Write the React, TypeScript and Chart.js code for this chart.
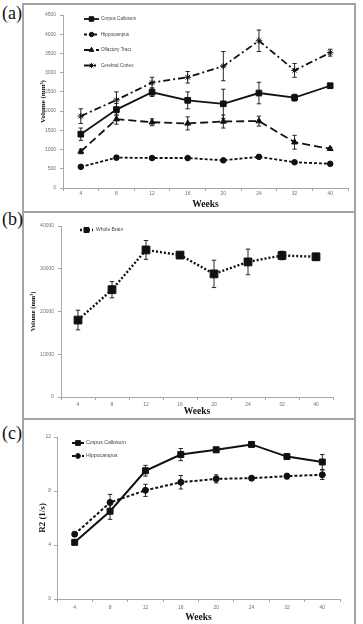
import React, { useEffect, useRef } from 'react';
import { Chart, registerables } from 'chart.js';
import { drawPoint } from 'chart.js/helpers';

Chart.register(...registerables);

// Imaging time points (weeks of age)
const weeks = ['4', '8', '12', '16', '20', '24', '32', '40'];

// (a) Regional volumes, mm³ (mean ± error)
const corpusVol = [1400, 2040, 2490, 2280, 2190, 2470, 2350, 2660];
const corpusVolErr = [160, 160, 110, 220, 380, 280, 90, 60];
const hippoVol = [550, 790, 780, 780, 720, 810, 670, 630];
const hippoVolErr = [40, 40, 40, 40, 40, 40, 30, 30];
const olfactoryVol = [950, 1790, 1710, 1680, 1730, 1740, 1190, 1020];
const olfactoryVolErr = [60, 130, 90, 170, 170, 130, 180, 40];
const cortexVol = [1870, 2290, 2740, 2880, 3170, 3830, 3060, 3520];
const cortexVolErr = [190, 210, 140, 150, 380, 280, 180, 90];

// (b) Whole brain volume, mm³
const wholeBrainVol = [18000, 25100, 34400, 33200, 28800, 31600, 33100, 32800];
const wholeBrainVolErr = [2300, 1900, 2200, 400, 3200, 3000, 1000, 800];

// (c) R2 relaxation rate, 1/s
const corpusR2 = [4.2, 6.5, 9.5, 10.7, 11.05, 11.45, 10.55, 10.15];
const corpusR2Err = [0.2, 0.6, 0.4, 0.45, 0.2, 0.15, 0.15, 0.55];
const hippoR2 = [4.8, 7.15, 8.05, 8.65, 8.9, 8.95, 9.1, 9.2];
const hippoR2Err = [0.15, 0.6, 0.45, 0.5, 0.3, 0.15, 0.2, 0.35];

const INK = '#111';
const AXIS = '#a8a8a8';
const TICK_TEXT = '#707070';
const FRAME = '#a4a4a4';

// Vertical error bars with small caps, read from dataset.errors
const errorBars = {
  id: 'errorBars',
  afterDatasetsDraw(chart: any) {
    const ctx = chart.ctx;
    chart.data.datasets.forEach((ds: any, i: number) => {
      if (!ds.errors) return;
      const meta = chart.getDatasetMeta(i);
      const ys = chart.scales[meta.yAxisID];
      ctx.save();
      ctx.strokeStyle = INK;
      ctx.lineWidth = 0.9;
      ctx.setLineDash([]);
      meta.data.forEach((pt: any, j: number) => {
        const v = ds.data[j];
        const e = ds.errors[j];
        const top = ys.getPixelForValue(v + e);
        const bot = ys.getPixelForValue(v - e);
        const cap = 2.2;
        ctx.beginPath();
        ctx.moveTo(pt.x, top);
        ctx.lineTo(pt.x, bot);
        ctx.moveTo(pt.x - cap, top);
        ctx.lineTo(pt.x + cap, top);
        ctx.moveTo(pt.x - cap, bot);
        ctx.lineTo(pt.x + cap, bot);
        ctx.stroke();
      });
      ctx.restore();
    });
  },
};

// Legend drawn as a vertical list inside the plot area
const insetLegend = {
  id: 'insetLegend',
  afterDraw(chart: any, _args: any, opts: any) {
    const ctx = chart.ctx;
    const { x, y, dy, len, gap, size, markerScale } = opts;
    chart.data.datasets.forEach((ds: any, i: number) => {
      const yy = y + i * dy;
      ctx.save();
      ctx.strokeStyle = INK;
      ctx.fillStyle = INK;
      ctx.lineWidth = ds.borderWidth;
      ctx.setLineDash(ds.borderDash || []);
      ctx.beginPath();
      ctx.moveTo(x, yy);
      ctx.lineTo(x + len, yy);
      ctx.stroke();
      ctx.setLineDash([]);
      ctx.lineWidth = 1;
      drawPoint(ctx, { pointStyle: ds.pointStyle, radius: ds.pointRadius * markerScale, rotation: 0, borderWidth: 1 }, x + len / 2, yy);
      ctx.fillStyle = '#444';
      ctx.font = `${size}px "Liberation Sans"`;
      ctx.textBaseline = 'middle';
      ctx.textAlign = 'left';
      ctx.fillText(ds.label, x + len + gap, yy);
      ctx.restore();
    });
  },
};

function series(label: string, data: number[], errors: number[], dash: number[], style: string, radius: number, width: number) {
  return {
    label,
    data,
    errors,
    borderColor: INK,
    backgroundColor: INK,
    borderWidth: width,
    borderDash: dash,
    pointStyle: style,
    pointRadius: radius,
    pointBorderWidth: 1,
    pointBackgroundColor: INK,
    pointBorderColor: INK,
    tension: 0,
    fill: false,
  };
}

type PanelCfg = {
  datasets: any[];
  yMin: number;
  yMax: number;
  yStep: number;
  yTitle: string;
  yTitleSize: number;
  yTitlePad: number;
  yWidth: number;
  yLabelPad: number;
  xHeight: number;
  xLabelPad: number;
  xTitlePad: number;
  padTop: number;
  padRight: number;
  legend: any;
};

function buildConfig(p: PanelCfg): any {
  return {
    type: 'line',
    data: { labels: weeks, datasets: p.datasets },
    options: {
      animation: false,
      responsive: false,
      maintainAspectRatio: false,
      events: [],
      layout: { padding: { left: 0, top: p.padTop, right: p.padRight, bottom: 0 } },
      plugins: {
        legend: { display: false },
        tooltip: { enabled: false },
        insetLegend: p.legend,
      },
      scales: {
        x: {
          type: 'category',
          offset: true,
          afterFit(s: any) { s.height = p.xHeight; },
          grid: { offset: true, drawOnChartArea: false, drawTicks: true, tickLength: 3, color: AXIS, lineWidth: 1 },
          border: { display: true, color: AXIS, width: 1 },
          ticks: { color: TICK_TEXT, font: { family: 'Liberation Sans', size: 5 }, padding: p.xLabelPad, maxRotation: 0, autoSkip: false },
          title: {
            display: true,
            text: 'Weeks',
            color: INK,
            font: { family: 'Liberation Serif', size: 9.5, weight: 'bold' },
            padding: { top: 0, bottom: p.xTitlePad },
          },
        },
        y: {
          min: p.yMin,
          max: p.yMax,
          afterFit(s: any) { s.width = p.yWidth; },
          grid: { drawOnChartArea: false, drawTicks: true, tickLength: 3, color: AXIS, lineWidth: 1 },
          border: { display: true, color: AXIS, width: 1 },
          ticks: {
            stepSize: p.yStep,
            color: TICK_TEXT,
            font: { family: 'Liberation Sans', size: 5 },
            padding: p.yLabelPad,
            callback: (v: number) => String(v),
          },
          title: {
            display: true,
            text: p.yTitle,
            color: INK,
            font: { family: 'Liberation Serif', size: p.yTitleSize, weight: 'bold' },
            padding: { top: p.yTitlePad, bottom: 0 },
          },
        },
      },
    },
    plugins: [errorBars, insetLegend],
  };
}

function Panel({ left, top, width, height, cfg }: { left: number; top: number; width: number; height: number; cfg: PanelCfg }) {
  const ref = useRef<HTMLCanvasElement | null>(null);
  useEffect(() => {
    if (!ref.current) return;
    const chart = new Chart(ref.current, buildConfig(cfg));
    return () => chart.destroy();
  }, []);
  return (
    <canvas
      ref={ref}
      width={width}
      height={height}
      style={{ position: 'absolute', left, top, width, height, display: 'block' }}
    />
  );
}

const volumePanel: PanelCfg = {
  datasets: [
    series('Corpus Callosum', corpusVol, corpusVolErr, [], 'rect', 4, 1.8),
    series('Hippocampus', hippoVol, hippoVolErr, [3, 2], 'circle', 2.8, 1.8),
    series('Olfactory Tract', olfactoryVol, olfactoryVolErr, [8, 4], 'triangle', 3.4, 1.8),
    series('Cerebral Cortex', cortexVol, cortexVolErr, [7, 3, 2, 3], 'star', 3.2, 1.8),
  ],
  yMin: 0,
  yMax: 4500,
  yStep: 500,
  yTitle: 'Volume (mm³)',
  yTitleSize: 7,
  yTitlePad: 15,
  yWidth: 39,
  yLabelPad: 4,
  xHeight: 23,
  xLabelPad: 0,
  xTitlePad: 0.5,
  padTop: 10,
  padRight: 6,
  legend: { x: 60, y: 14, dy: 15.5, len: 15, gap: 2, size: 4.6, markerScale: 0.8 },
};

const brainPanel: PanelCfg = {
  datasets: [series('Whole Brain', wholeBrainVol, wholeBrainVolErr, [2, 2], 'rect', 5.5, 2.4)],
  yMin: 0,
  yMax: 40000,
  yStep: 10000,
  yTitle: 'Volume (mm³)',
  yTitleSize: 6.5,
  yTitlePad: 5,
  yWidth: 37,
  yLabelPad: 4,
  xHeight: 21,
  xLabelPad: 2,
  xTitlePad: 0.3,
  padTop: 13,
  padRight: 21,
  legend: { x: 56, y: 17, dy: 14, len: 13, gap: 3, size: 5, markerScale: 0.65 },
};

const r2Panel: PanelCfg = {
  datasets: [
    series('Corpus Callosum', corpusR2, corpusR2Err, [], 'rect', 4.2, 2),
    series('Hippocampus', hippoR2, hippoR2Err, [3, 2], 'circle', 3, 2),
  ],
  yMin: 0,
  yMax: 12,
  yStep: 4,
  yTitle: 'R2 (1/s)',
  yTitleSize: 9,
  yTitlePad: 13.5,
  yWidth: 33,
  yLabelPad: 3,
  xHeight: 25,
  xLabelPad: 3,
  xTitlePad: 0.3,
  padTop: 17,
  padRight: 14,
  legend: { x: 48, y: 23, dy: 13, len: 12, gap: 2, size: 5.2, markerScale: 0.8 },
};

const frameLine = (style: React.CSSProperties) => (
  <div style={{ position: 'absolute', background: FRAME, ...style }} />
);

const panelLabel: React.CSSProperties = {
  position: 'absolute',
  left: 2,
  fontFamily: '"Liberation Serif", serif',
  fontSize: 18,
  lineHeight: '18px',
  color: '#111',
};

export default function App() {
  return (
    <div style={{ position: 'fixed', left: 0, top: 0, width: 363, height: 624, background: '#fff', overflow: 'hidden' }}>
      {frameLine({ left: 22, top: 3, width: 2, height: 621 })}
      {frameLine({ left: 354, top: 3, width: 2, height: 621 })}
      {frameLine({ left: 22, top: 3, width: 334, height: 2 })}
      {frameLine({ left: 22, top: 211, width: 334, height: 2 })}
      {frameLine({ left: 22, top: 418, width: 334, height: 2 })}

      <Panel left={24} top={5} width={330} height={206} cfg={volumePanel} />
      <Panel left={24} top={213} width={330} height={205} cfg={brainPanel} />
      <Panel left={24} top={420} width={330} height={204} cfg={r2Panel} />

      <div style={{ ...panelLabel, top: 4 }}>(a)</div>
      <div style={{ ...panelLabel, top: 210 }}>(b)</div>
      <div style={{ ...panelLabel, top: 424 }}>(c)</div>
    </div>
  );
}
